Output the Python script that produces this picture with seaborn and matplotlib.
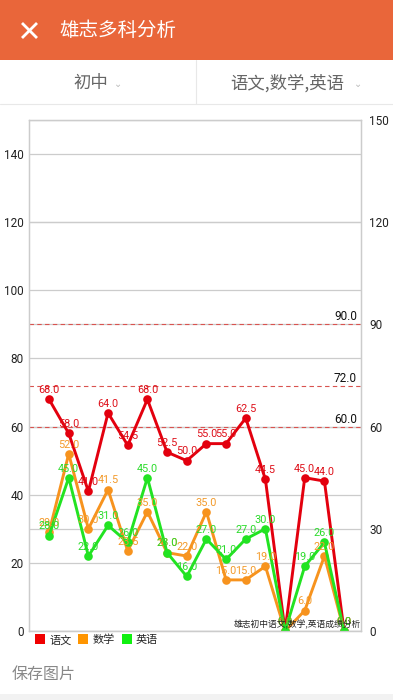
import numpy as np
import pandas as pd
import matplotlib
matplotlib.use("Agg")
import matplotlib.pyplot as plt
import seaborn as sns
from matplotlib.lines import Line2D
from matplotlib.patches import Rectangle

# ---------------- data ----------------
subjects = ["语文", "数学", "英语"]
chinese = [68.0, 58.0, 41.0, 64.0, 54.5, 68.0, 52.5, 50.0, 55.0, 55.0, 62.5, 44.5, 0.0, 45.0, 44.0, 0.0]
math_sc = [29.0, 52.0, 30.0, 41.5, 23.5, 35.0, 23.0, 22.0, 35.0, 15.0, 15.0, 19.0, 0.0, 6.0, 22.0, 0.0]
english = [28.0, 45.0, 22.0, 31.0, 26.0, 45.0, 23.0, 16.0, 27.0, 21.0, 27.0, 30.0, 0.0, 19.0, 26.0, 0.0]
ref_lines = [90.0, 72.0, 60.0]
left_ticks = [0, 20, 40, 60, 80, 100, 120, 140]
right_ticks = [0, 30, 60, 90, 120, 150]
title = "雄志多科分析"
sel_left = "初中"
sel_right = "语文,数学,英语"
desc = "雄志初中语文,数学,英语成绩分析"
save_txt = "保存图片"

line_colors = {"语文": "#E3000E", "数学": "#F7931E", "英语": "#22E322"}
label_colors = {"语文": "#DE101A", "数学": "#F39A2A", "英语": "#2BDB2B"}
legend_colors = {"语文": "#F00000", "数学": "#FF9500", "英语": "#10F010"}

series = {"语文": chinese, "数学": math_sc, "英语": english}
rows = []
for s in subjects:
    for i, v in enumerate(series[s]):
        rows.append({"idx": i, "score": v, "subject": s})
df = pd.DataFrame(rows)

# ---------------- figure ----------------
sns.set_style("white")
plt.rcParams["font.family"] = ["Roboto", "Noto Sans CJK SC", "DejaVu Sans"]
CJK = ["Noto Sans CJK SC", "DejaVu Sans"]

W, H = 393, 700
fig = plt.figure(figsize=(W / 100, H / 100), dpi=100)
fig.patch.set_facecolor("white")

def fx(x):
    return x / W

def fy(y):
    return 1 - y / H

# header bar
fig.patches.append(Rectangle((0, fy(60)), 1, 60 / H, transform=fig.transFigure,
                             facecolor="#E9663A", edgecolor="none", zorder=0))
# close X
for (x0, y0, x1, y1) in [(22, 23, 37, 38), (22, 38, 37, 23)]:
    fig.add_artist(Line2D([fx(x0), fx(x1)], [fy(y0), fy(y1)], transform=fig.transFigure,
                          color="white", lw=2.0, solid_capstyle="butt"))
fig.text(fx(60), fy(31), title, color="white", fontsize=14, family=CJK,
         ha="left", va="center")

# selector row
fig.text(fx(91), fy(83), sel_left, color="#666666", fontsize=12.5, family=CJK,
         ha="center", va="center")
fig.text(fx(118), fy(84), "⌄", color="#BBBBBB", fontsize=7, family=["DejaVu Sans"],
         ha="center", va="center")
fig.text(fx(287), fy(83), sel_right, color="#666666", fontsize=12.5, family=CJK,
         ha="center", va="center")
fig.text(fx(358), fy(84), "⌄", color="#BBBBBB", fontsize=7, family=["DejaVu Sans"],
         ha="center", va="center")
fig.add_artist(Line2D([fx(196), fx(196)], [fy(60), fy(104)], transform=fig.transFigure,
                      color="#E8E8E8", lw=0.8))
fig.add_artist(Line2D([0, 1], [fy(104), fy(104)], transform=fig.transFigure,
                      color="#E8E8E8", lw=0.8))

# ---------------- chart ----------------
left, right, top, bottom = 29, 361, 120, 631
ax = fig.add_axes([fx(left), fy(bottom), (right - left) / W, (bottom - top) / H])
ax.set_facecolor("white")
ax.set_ylim(0, 150)
ax.set_xlim(-1.02, 15.86)

ax2 = ax.twinx()
ax2.set_ylim(0, 150)

for y in left_ticks:
    ax.axhline(y, color="#CCCCCC", lw=0.9, zorder=0)
for y in right_ticks:
    ax.axhline(y, color="#CCCCCC", lw=0.9, zorder=0)

for r in ref_lines:
    ax.axhline(r, color="#D9534F", lw=0.8, ls=(0, (4, 3)), zorder=1)
    ax.text(15.65, r + 0.3, f"{r:.1f}", color="#111111", fontsize=8.5, ha="right", va="bottom")

sns.lineplot(data=df, x="idx", y="score", hue="subject", hue_order=subjects,
             palette=line_colors, marker="o", markersize=6.2, markeredgewidth=0,
             linewidth=2.1, sort=False, legend=False, ax=ax, zorder=3)

for s in subjects:
    for i, v in enumerate(series[s]):
        ax.annotate(f"{v:.1f}", (i, v), xytext=(0, 3), textcoords="offset points",
                    ha="center", va="bottom", fontsize=7.8, color=label_colors[s], zorder=4)

ax.set_xlabel("")
ax.set_ylabel("")
ax.set_xticks([])
ax.set_yticks(left_ticks)
ax.set_yticklabels([str(t) for t in left_ticks])
ax.tick_params(axis="y", length=0, pad=4, labelsize=8.5, labelcolor="#222222")
ax2.set_yticks(right_ticks)
ax2.set_yticklabels([str(t) for t in right_ticks])
ax2.tick_params(axis="y", length=0, pad=6, labelsize=8.5, labelcolor="#222222")
for a in (ax, ax2):
    for sp in a.spines.values():
        sp.set_color("#CCCCCC")
        sp.set_linewidth(0.9)

ax.text(1.0, 0.004, desc, transform=ax.transAxes, fontsize=6.3, family=CJK,
        color="#222222", ha="right", va="bottom", zorder=5)

# legend
handles = [Line2D([0], [0], marker="s", ls="none", markersize=7,
                  markerfacecolor=legend_colors[s], markeredgewidth=0) for s in subjects]
leg = fig.legend(handles, subjects, loc="center left",
                 bbox_to_anchor=(fx(36), fy(640)), ncol=3, frameon=False,
                 handlelength=0.7, handletextpad=0.5, columnspacing=0.7,
                 prop={"family": CJK, "size": 8}, borderaxespad=0, borderpad=0)

fig.text(fx(12), fy(674), save_txt, color="#888888", fontsize=11.5, family=CJK,
         ha="left", va="center")
fig.patches.append(Rectangle((0, 0), 1, 6 / H, transform=fig.transFigure,
                             facecolor="#F2F2F2", edgecolor="none", zorder=0))

fig.savefig("out.png", dpi=100)
